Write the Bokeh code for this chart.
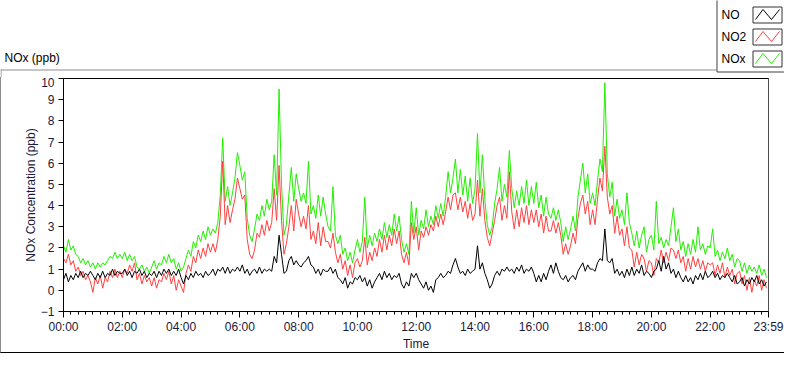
from bokeh.plotting import figure
from bokeh.layouts import column, row
from bokeh.models import FixedTicker, Range1d, ColumnDataSource, Span
from bokeh.core.properties import value
from bokeh.embed import file_html
from bokeh.resources import INLINE

# ---- data: 5-minute samples (ppb) ----
MINUTES = list(range(0, 1440, 5))

NOX = [
    2.1, 1.8, 2.4, 1.9, 2.1, 1.7, 1.6, 1.3, 1.5, 1.2, 1.4, 1.1,
    1.3, 1.0, 1.3, 1.1, 1.3, 1.2, 1.4, 1.6, 1.5, 1.8, 1.5, 1.7,
    1.5, 1.8, 1.4, 1.7, 1.4, 1.6, 1.1, 1.0, 1.2, 0.9, 1.1, 0.8,
    1.1, 1.4, 1.0, 1.3, 1.2, 1.6, 1.3, 1.7, 1.3, 1.5, 1.0, 1.3,
    0.9, 1.1, 1.5, 1.9, 1.6, 2.3, 2.0, 2.6, 2.3, 2.8, 2.4, 3.0,
    2.6, 2.9, 2.7, 3.2, 4.5, 7.2, 4.2, 4.9, 4.0, 4.6, 5.3, 6.5,
    5.9, 5.2, 5.6, 3.4, 2.6, 2.3, 2.9, 3.6, 3.3, 4.0, 3.5, 4.3,
    3.8, 4.2, 6.4, 4.5, 9.5, 5.0, 2.6, 3.1, 4.5, 5.8, 4.2, 5.5,
    4.8, 4.2, 4.6, 4.1, 6.1, 3.6, 4.0, 3.4, 4.5, 3.5, 4.4, 3.6,
    3.0, 2.8, 4.9, 2.6, 2.2, 2.6, 1.7, 2.0, 1.4, 1.8, 1.3, 1.9,
    2.4, 1.8, 2.3, 4.4, 2.0, 2.6, 2.1, 2.7, 2.3, 2.9, 2.4, 3.2,
    2.5, 3.1, 2.6, 3.6, 2.8, 3.5, 2.4, 1.8, 2.2, 1.7, 4.2, 2.7,
    3.9, 2.6, 3.3, 2.9, 3.8, 3.0, 3.5, 3.1, 4.0, 3.4, 4.1, 3.5,
    4.4, 5.6, 4.6, 5.3, 6.2, 4.6, 5.7, 4.5, 5.4, 4.2, 5.3, 4.1,
    4.8, 7.4, 4.6, 6.4, 4.3, 3.1, 2.6, 3.0, 4.1, 4.8, 5.8, 4.2,
    5.0, 4.4, 6.6, 4.8, 3.9, 4.7, 4.0, 4.9, 4.1, 5.2, 4.0, 4.9,
    4.1, 5.1, 3.9, 4.5, 3.5, 4.4, 3.6, 3.4, 3.9, 3.3, 3.8, 3.2,
    2.3, 3.0, 2.4, 2.9, 3.5, 2.8, 4.4, 5.2, 6.0, 4.6, 5.5, 4.1,
    4.6, 4.0, 5.2, 6.2, 5.6, 9.8, 5.5, 4.4, 5.1, 3.5, 4.3, 3.4,
    3.8, 3.1, 4.6, 3.2, 2.7, 2.1, 2.8, 2.0, 2.6, 3.0, 1.8, 2.4,
    2.6, 1.9, 4.2, 2.2, 2.5, 2.0, 2.4, 2.1, 3.0, 3.9, 2.3, 2.9,
    1.9, 2.3, 1.6, 2.2, 1.7, 2.4, 1.8, 3.0, 1.9, 2.2, 1.7, 2.1,
    2.0, 2.9, 1.6, 1.9, 1.4, 1.8, 1.5, 2.0, 1.4, 1.7, 1.1, 1.5,
    1.4, 0.9, 1.3, 0.8, 1.2, 0.9, 1.1, 0.8, 1.2, 0.7, 1.0, 0.6,
]

NO2 = [
    1.5, 1.3, 1.7, 1.2, 1.4, 0.9, 1.1, 0.7, 0.9, 0.5, 0.7, 0.4,
    -0.1, 0.6, 0.3, 0.7, 0.1, 0.6, 0.4, 0.9, 0.6, 1.0, 0.6, 0.9,
    0.6, 1.0, 0.8, 1.2, 0.9, 1.3, 0.5, 0.8, 0.3, 0.7, 0.4, 0.6,
    0.2, 0.6, 0.1, 0.5, 0.4, 0.8, 0.5, 0.9, 0.3, 0.7, 0.0, 0.5,
    0.2, -0.1, 0.8, 1.2, 0.9, 1.6, 1.3, 1.9, 1.5, 2.0, 1.6, 2.2,
    1.8, 2.2, 1.8, 2.4, 3.5, 6.1, 3.1, 4.0, 3.2, 3.8, 4.3, 5.3,
    4.8, 4.3, 4.5, 2.4, 1.7, 1.5, 1.9, 2.7, 2.5, 3.1, 2.6, 3.3,
    2.8, 3.2, 4.8, 3.3, 5.9, 3.3, 1.7, 2.2, 3.0, 4.0, 2.8, 4.3,
    3.6, 3.0, 3.5, 2.9, 4.0, 2.4, 2.8, 2.2, 3.2, 2.1, 3.0, 2.3,
    2.3, 2.0, 2.7, 1.8, 1.3, 1.7, 1.0, 1.4, 0.7, 1.2, 0.6, 1.3,
    1.5, 1.1, 1.4, 2.5, 1.2, 1.8, 1.4, 2.0, 1.6, 2.4, 1.8, 2.6,
    1.9, 2.6, 2.1, 2.9, 2.2, 2.8, 1.7, 1.3, 1.8, 1.2, 3.2, 2.4,
    3.0, 1.9, 2.8, 2.5, 3.0, 2.6, 3.1, 2.8, 3.5, 3.0, 3.6, 3.1,
    3.7, 4.4, 3.8, 4.5, 4.6, 3.8, 4.4, 3.7, 4.2, 3.4, 4.1, 3.3,
    3.6, 5.2, 3.5, 4.8, 3.3, 2.5, 2.1, 2.7, 3.3, 4.0, 4.4, 3.3,
    4.0, 3.4, 5.6, 3.7, 2.9, 3.8, 3.0, 3.9, 3.2, 4.0, 3.1, 3.8,
    3.2, 3.8, 3.0, 3.6, 2.7, 3.5, 2.8, 2.8, 3.3, 2.7, 3.2, 2.6,
    1.7, 2.2, 1.7, 2.1, 2.7, 2.2, 3.4, 4.1, 4.5, 3.6, 4.2, 3.1,
    3.8, 3.1, 4.3, 5.3, 4.7, 6.8, 4.4, 3.6, 4.0, 2.7, 3.5, 2.6,
    2.9, 2.1, 3.0, 2.0, 1.9, 1.1, 1.8, 1.2, 1.7, 1.5, 0.9, 1.4,
    1.3, 0.7, 1.5, 1.3, 1.9, 1.3, 1.8, 1.4, 2.0, 1.9, 1.5, 1.9,
    1.3, 1.6, 0.9, 1.5, 1.0, 1.6, 1.1, 1.5, 1.0, 1.4, 0.9, 1.3,
    1.2, 1.3, 0.7, 1.2, 0.8, 1.3, 0.6, 1.1, 0.7, 1.0, 0.3, 0.8,
    0.9, 0.3, 0.7, 0.0, 0.6, -0.1, 0.5, 0.2, 0.7, 0.0, 0.5, 0.1,
]

NO = [
    0.5, 0.8, 0.4, 0.7, 0.5, 0.8, 0.6, 0.9, 0.6, 0.8, 0.7, 0.9,
    0.7, 0.5, 0.8, 0.6, 0.9, 0.6, 0.8, 0.7, 1.0, 0.7, 0.9, 0.8,
    0.8, 1.0, 0.7, 0.9, 0.6, 0.9, 0.8, 1.0, 0.7, 0.9, 0.6, 0.8,
    0.7, 0.9, 0.6, 0.9, 0.7, 1.0, 0.8, 1.0, 0.7, 0.9, 0.7, 1.0,
    0.6, 0.3, 0.7, 0.5, 0.8, 0.6, 0.9, 0.7, 0.8, 0.6, 0.9, 0.7,
    0.8, 1.0, 0.7, 1.0, 0.9, 1.1, 0.8, 1.1, 0.8, 1.0, 0.9, 1.1,
    0.9, 1.2, 0.8, 1.0, 0.7, 0.9, 1.0, 0.8, 1.1, 0.8, 1.0, 0.9,
    1.0, 0.9, 1.6, 1.3, 2.6, 1.7, 0.8, 0.9, 1.4, 1.6, 1.2, 1.4,
    1.2, 1.1, 1.3, 1.4, 1.6, 1.2, 1.1, 0.8, 1.0, 0.7, 1.0, 0.9,
    0.9, 1.1, 0.8, 1.0, 0.6, 0.5, 0.3, 0.6, 0.1, 0.4, 0.3, 0.6,
    0.5, 0.7, 0.4, 0.6, 0.2, 0.5, 0.1, 0.4, 0.6, 0.8, 0.5, 0.9,
    0.6, 0.8, 0.5, 0.7, 0.6, 0.8, 0.3, 0.1, 0.4, 0.2, 0.8, 0.6,
    0.8, 0.5, 0.3, 0.1, 0.4, 0.0, 0.2, -0.1, 0.5, 0.6, 0.8, 0.6,
    0.7, 0.9, 0.8, 1.2, 1.5, 1.1, 0.8, 0.9, 0.7, 1.0, 0.8, 0.9,
    1.0, 2.1, 1.0, 1.3, 0.8, 0.5, 0.1, 0.3, 0.7, 0.9, 0.7, 1.0,
    0.9, 1.1, 0.9, 1.0, 0.8, 1.1, 0.9, 1.2, 0.8, 1.0, 0.9, 1.1,
    0.8, 0.4, 0.7, 0.4, 0.8, 0.5, 0.9, 1.2, 0.8, 1.3, 0.9, 0.6,
    0.5, 0.7, 0.4, 0.6, 0.7, 0.5, 0.9, 1.1, 1.3, 0.9, 1.2, 1.0,
    1.0, 0.9, 1.3, 1.5, 1.4, 2.9, 1.4, 1.3, 1.5, 0.8, 1.0, 0.7,
    0.9, 0.6, 1.0, 0.7, 1.1, 0.7, 1.0, 0.8, 1.2, 0.7, 0.9, 0.8,
    0.6, 0.9, 1.0, 1.4, 0.9, 1.6, 1.0, 1.3, 0.8, 1.0, 0.6, 0.9,
    0.6, 0.4, 0.7, 0.4, 0.6, 0.3, 0.7, 0.5, 0.8, 0.5, 0.9, 0.6,
    0.7, 0.9, 0.6, 0.8, 0.5, 0.7, 0.6, 0.8, 0.6, 0.4, 0.7, 0.3,
    0.4, 0.6, 0.2, 0.5, 0.3, 0.6, 0.4, 0.7, 0.3, 0.5, 0.2, 0.4,
]

SERIES_NAMES = ["NO", "NO2", "NOx"]
SERIES_COLORS = ["#000000", "#ff4040", "#22ee00"]

X_TICKS = [0, 120, 240, 360, 480, 600, 720, 840, 960, 1080, 1200, 1320, 1439]
X_TICK_LABELS = ["00:00", "02:00", "04:00", "06:00", "08:00", "10:00", "12:00",
                 "14:00", "16:00", "18:00", "20:00", "22:00", "23:59"]
X_MINOR = list(range(0, 1440, 15)) + [1439]
Y_TICKS = list(range(-1, 11))

TITLE = "NOx (ppb)"
X_LABEL = "Time"
Y_LABEL = "NOx Concentration (ppb)"

FONT = "Liberation Sans"
TXT = "#1a1a3a"
W = 784
HEAD_H = 77
MAIN_H = 276

# ---------------- header strip: title + legend (pixel space) ----------------
head = figure(width=W, height=HEAD_H, output_backend="svg", toolbar_location=None,
              x_range=Range1d(0, W), y_range=Range1d(HEAD_H, 0),
              x_axis_type=None, y_axis_type=None, min_border=0,
              outline_line_color=None, background_fill_color="white",
              border_fill_color="white")
head.text(x=[4], y=[57], text=[TITLE], text_font=value(FONT),
          text_font_size="12px", text_color="black", text_baseline="middle")
head.segment(x0=[0, 0.5], y0=[69.5, 69], x1=[716, 0.5], y1=[69.5, HEAD_H],
             line_color="#8c8c8c", line_width=1)
head.quad(left=[716.5], right=[W + 10], top=[-5], bottom=[71.5],
          fill_color="white", line_color="#404040", line_width=1)
tops = [6, 28, 50]
head.text(x=[721] * 3, y=[t + 8 for t in tops], text=SERIES_NAMES,
          text_font=value(FONT), text_font_size="12px", text_color="black",
          text_baseline="middle")
head.quad(left=[752.5] * 3, right=[781.5] * 3, top=[t + 0.5 for t in tops],
          bottom=[t + 16.5 for t in tops], fill_color="white",
          line_color="#333333", line_width=1)
head.multi_line(xs=[[755, 762.5, 771, 779]] * 3,
                ys=[[t + 13, t + 3, t + 13, t + 3] for t in tops],
                line_color=SERIES_COLORS, line_width=1)

# ---------------- main chart ----------------
src = ColumnDataSource(dict(t=MINUTES, no=NO, no2=NO2, nox=NOX))

p = figure(width=W, height=MAIN_H, output_backend="svg", toolbar_location=None,
           x_range=Range1d(0, 1439), y_range=Range1d(-1, 10),
           min_border_left=62, min_border_right=17, min_border_top=1,
           min_border_bottom=38, outline_line_color="black",
           background_fill_color="white", border_fill_color="white")
p.styles = {"border-left": "1px solid #8c8c8c", "border-bottom": "1px solid #000000"}
p.xgrid.visible = False
p.ygrid.visible = False

for fig in (head, p):
    try:
        fig.frame_align = False
    except Exception:
        pass

p.line("t", "nox", source=src, line_color=SERIES_COLORS[2], line_width=1)
p.line("t", "no2", source=src, line_color=SERIES_COLORS[1], line_width=1)
p.line("t", "no", source=src, line_color=SERIES_COLORS[0], line_width=1)

xa = p.xaxis[0]
xa.ticker = FixedTicker(ticks=X_TICKS, minor_ticks=X_MINOR)
xa.major_label_overrides = {t: l for t, l in zip(X_TICKS, X_TICK_LABELS)}
xa.axis_label = X_LABEL
ya = p.yaxis[0]
ya.ticker = FixedTicker(ticks=Y_TICKS, minor_ticks=[])
ya.axis_label = Y_LABEL

for ax in (xa, ya):
    ax.axis_line_color = "black"
    ax.major_tick_line_color = "black"
    ax.minor_tick_line_color = "black"
    ax.major_tick_in = 0
    ax.minor_tick_in = 0
    ax.minor_tick_out = 3
    ax.major_label_text_font = FONT
    ax.major_label_text_font_size = "12px"
    ax.major_label_text_color = TXT
    ax.axis_label_text_font = FONT
    ax.axis_label_text_font_size = "12px"
    ax.axis_label_text_font_style = "normal"
    ax.axis_label_text_color = TXT
    ax.axis_label_standoff = 0
xa.major_tick_out = 6
xa.major_label_standoff = 2
ya.major_tick_out = 5
ya.major_label_standoff = 4

# gray right edge of the plot area
p.add_layout(Span(location=1439, dimension="height", line_color="#9a9a9a", line_width=1))

layout = column(row(head), p, spacing=0)
open("out.html", "w").write(file_html(layout, INLINE))
